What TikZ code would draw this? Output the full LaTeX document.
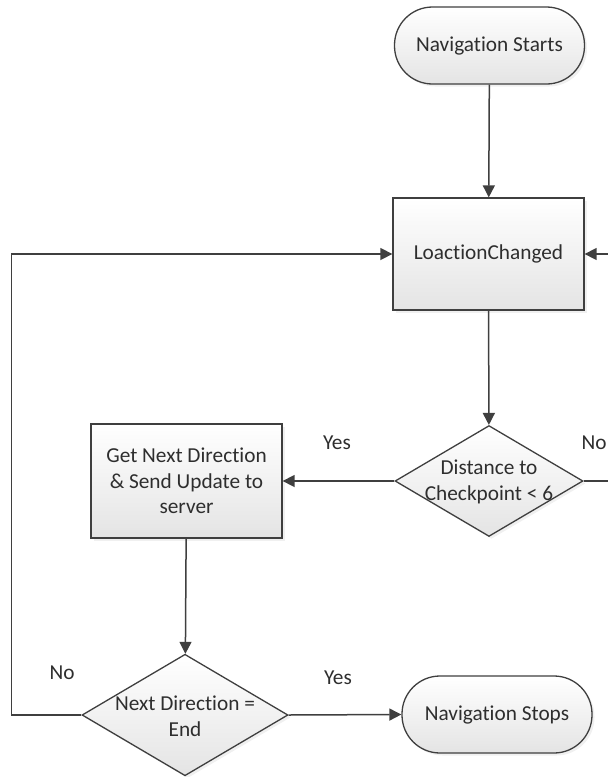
\documentclass[tikz,border=0pt]{standalone}
\usepackage{fontspec}
\setmainfont[Ligatures={NoCommon,NoContextual}]{Carlito}
\usetikzlibrary{shapes.geometric,arrows.meta,shadows}
\definecolor{edge}{HTML}{3F3F3F}
\definecolor{ink}{HTML}{2E2E2E}
\definecolor{fillbot}{HTML}{E4E4E4}
\begin{document}
\begin{tikzpicture}[x=1pt,y=-1pt,
  font=\fontsize{21.3}{25.5}\selectfont, text=ink,
  shapebase/.style={draw=edge, line width=1.3pt, top color=white, bottom color=fillbot,
    inner sep=0pt, align=center,
    drop shadow={opacity=0.12, shadow xshift=2.5pt, shadow yshift=-2.5pt}},
  terminal/.style={shapebase, rectangle, rounded corners=38pt,
    minimum width=190pt, minimum height=77pt},
  process/.style={shapebase, rectangle, minimum width=191pt},
  decision/.style={shapebase, diamond, minimum width=#1, minimum height=#1*0.59},
  caption/.style={align=center, inner sep=0pt},
  flow/.style={draw=edge, line width=1.5pt, -{Triangle[length=12pt,width=12pt]}},
  tag/.style={inner sep=0pt}
]
\useasboundingbox (0,0) rectangle (608,777);

% nodes
\node[terminal] (start) at (489.5,45.5) {Navigation Starts};
\node[process, minimum height=112pt] (loc) at (488.5,254) {LoactionChanged};
\node[decision=188pt] (dist) at (489,481) {};
\node[caption] (distt) at (489,482) {Distance to\\Checkpoint < 6};
\node[process, minimum height=114pt] (next) at (186.5,481) {Get Next Direction\\\& Send Update to\\server};
\node[decision=206pt] (end) at (185,715) {};
\node[caption] (endt) at (185,716) {Next Direction =\\End};
\node[terminal] (stop) at (497,714.5) {Navigation Stops};

% loop ends
\coordinate (rgt) at (625,481);
\coordinate (lft) at (11.5,715);

% connectors
\draw[flow] (start) -- (loc);
\draw[flow] (loc) -- (dist);
\draw[flow] (dist.west) -- (next.east);
\draw[flow] (next) -- (end);
\draw[flow] (end.east) -- (stop.west);
\draw[flow] (end.west) -- (lft) |- (loc.west);
\draw[flow] (dist.east) -- (rgt) |- (loc.east);

% branch labels
\node[tag] (yes1) at (337,443) {Yes};
\node[tag] (no1) at (594,443) {No};
\node[tag] (no2) at (62,673) {No};
\node[tag] (yes2) at (338,678) {Yes};
\end{tikzpicture}
\end{document}
